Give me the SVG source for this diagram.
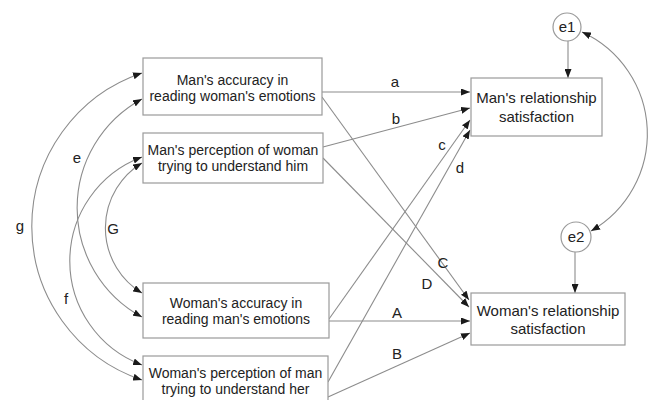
<svg xmlns="http://www.w3.org/2000/svg" width="651" height="400" viewBox="0 0 651 400">
<style>
.box{fill:#fff;stroke:#9a9a9a;stroke-width:1.2}
.t{font-family:"Liberation Sans",Arial,sans-serif;font-size:14px;fill:#222;text-anchor:middle}
.t2{font-family:"Liberation Sans",Arial,sans-serif;font-size:15px;fill:#222;text-anchor:middle}
.lb{font-family:"Liberation Sans",Arial,sans-serif;font-size:15px;fill:#222;text-anchor:middle}
.ln{fill:none;stroke:#8c8c8c;stroke-width:1.1;marker-end:url(#ah)}
.dbl{fill:none;stroke:#8c8c8c;stroke-width:1.1;marker-start:url(#ah);marker-end:url(#ah)}
</style>
<defs>
<marker id="ah" markerUnits="userSpaceOnUse" markerWidth="9" markerHeight="7" refX="9" refY="3.5" orient="auto-start-reverse">
<path d="M0,0 L9,3.5 L0,7 z" fill="#1a1a1a"/>
</marker>
</defs>
<rect width="651" height="400" fill="#fff"/>
<g id="connectors">
<path class="ln" d="M322,92 L470,92"/>
<path class="ln" d="M323,147 L470,108"/>
<path class="ln" d="M329,319 L470,120"/>
<path class="ln" d="M328,382 L470,130"/>
<path class="ln" d="M322,97 L469,300"/>
<path class="ln" d="M323,158 L469,307"/>
<path class="ln" d="M329,321 L470,321"/>
<path class="ln" d="M328,397 L470,333"/>
<path class="ln" d="M568,41 L568,78"/>
<path class="ln" d="M575,252 L575,293"/>
<path class="dbl" d="M142,73 A162,162 0 0 0 142,380"/>
<path class="dbl" d="M142,99 A124,124 0 0 0 142,317"/>
<path class="dbl" d="M142,157 A111,111 0 0 0 142,365"/>
<path class="dbl" d="M142,163 A76,76 0 0 0 142,293"/>
<path class="dbl" d="M582,32 A112,112 0 0 1 591,231"/>
<text class="lb" x="395" y="87">a</text>
<text class="lb" x="396" y="124">b</text>
<text class="lb" x="442" y="150">c</text>
<text class="lb" x="460" y="173">d</text>
<text class="lb" x="443" y="268">C</text>
<text class="lb" x="427" y="289">D</text>
<text class="lb" x="397" y="318">A</text>
<text class="lb" x="397" y="359">B</text>
<text class="lb" x="77" y="163">e</text>
<text class="lb" x="20" y="231">g</text>
<text class="lb" x="113" y="234">G</text>
<text class="lb" x="66" y="304">f</text>
</g>
<g id="n1">
<rect class="box" x="143" y="58" width="179" height="57"/>
<text class="t" x="232.5" y="85">Man's accuracy in</text>
<text class="t" x="232.5" y="101">reading woman's emotions</text>
</g>
<g id="n2">
<rect class="box" x="143" y="133" width="180" height="50"/>
<text class="t" x="233" y="155">Man's perception of woman</text>
<text class="t" x="233" y="171">trying to understand him</text>
</g>
<g id="n3">
<rect class="box" x="143" y="283" width="186" height="55"/>
<text class="t" x="236" y="308">Woman's accuracy in</text>
<text class="t" x="236" y="324">reading man's emotions</text>
</g>
<g id="n4">
<rect class="box" x="143" y="356" width="185" height="50"/>
<text class="t" x="235.5" y="378">Woman's perception of man</text>
<text class="t" x="235.5" y="394">trying to understand her</text>
</g>
<g id="n5">
<rect class="box" x="471" y="78" width="131" height="58"/>
<text class="t2" x="536.5" y="103">Man's relationship</text>
<text class="t2" x="536.5" y="122">satisfaction</text>
</g>
<g id="n6">
<rect class="box" x="471" y="293" width="154" height="52"/>
<text class="t2" x="548" y="316">Woman's relationship</text>
<text class="t2" x="548" y="334">satisfaction</text>
</g>
<g id="e1">
<circle cx="567" cy="27" r="14" fill="#fff" stroke="#9a9a9a" stroke-width="1.2"/>
<text class="lb" x="567" y="32">e1</text>
</g>
<g id="e2">
<circle cx="576" cy="237" r="15" fill="#fff" stroke="#9a9a9a" stroke-width="1.2"/>
<text class="lb" x="576" y="242">e2</text>
</g>
</svg>
